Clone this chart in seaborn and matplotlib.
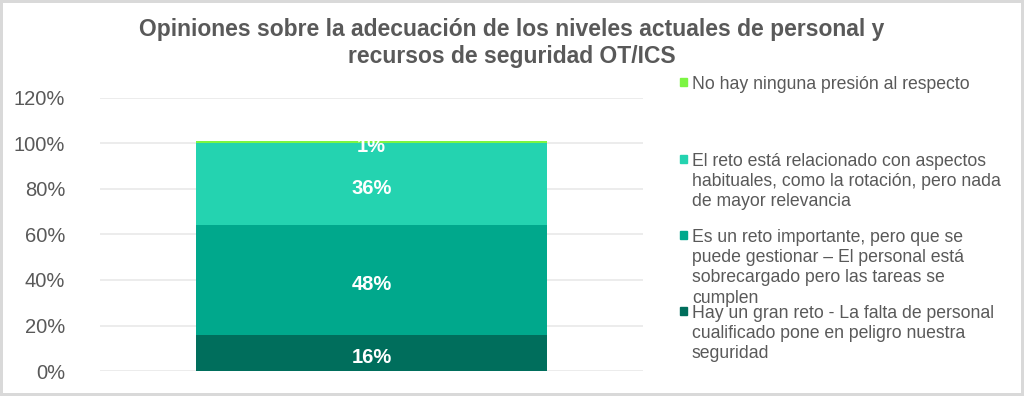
import numpy as np
import matplotlib
matplotlib.use("Agg")
import matplotlib.pyplot as plt
import seaborn as sns
from matplotlib.patches import Rectangle
from matplotlib.ticker import PercentFormatter

# datos (de abajo hacia arriba)
categoria = ["Total"]
respuestas = [
    "Hay un gran reto - La falta de personal\ncualificado pone en peligro nuestra\nseguridad",
    "Es un reto importante, pero que se\npuede gestionar – El personal está\nsobrecargado pero las tareas se\ncumplen",
    "El reto está relacionado con aspectos\nhabituales, como la rotación, pero nada\nde mayor relevancia",
    "No hay ninguna presión al respecto",
]
porcentajes = [16, 48, 36, 1]
colores = ["#006E5C", "#00A88C", "#24D3B0", "#7CF542"]

titulo = "Opiniones sobre la adecuación de los niveles actuales de personal y\nrecursos de seguridad OT/ICS"

sns.set_theme(style="white")
plt.rcParams["font.family"] = ["Liberation Sans", "DejaVu Sans"]

fig = plt.figure(figsize=(10.24, 3.96), dpi=100)
fig.patch.set_edgecolor("#D9D9D9")
fig.patch.set_linewidth(3)
ax = fig.add_axes([100 / 1024, 0.063, 543 / 1024, 0.69])

vals = np.array(porcentajes) / 100
acum = np.cumsum(vals)

# barras apiladas: se dibujan de la más alta a la más baja
for i in range(len(vals) - 1, -1, -1):
    sns.barplot(x=categoria, y=[acum[i]], color=colores[i], width=0.645,
                saturation=1, ax=ax, linewidth=0)

# etiquetas de datos
for i, v in enumerate(vals):
    ax.annotate(f"{porcentajes[i]}%", (0, acum[i] - v / 2), xytext=(0, -3),
                textcoords="offset points", ha="center", va="center",
                color="white", fontsize=14.5, fontweight="bold")

ax.set_ylim(0, 1.2)
ax.set_xlim(-0.5, 0.5)
ax.set_yticks(np.arange(0, 1.21, 0.2))
ax.yaxis.set_major_formatter(PercentFormatter(1, decimals=0))
ax.tick_params(axis="y", labelsize=14.5, labelcolor="#595959", pad=25, length=0)
ax.set_xticks([])
ax.set_xlabel("")
ax.set_ylabel("")
ax.grid(axis="y", color="#EBEBEB", linewidth=1.3)
ax.set_axisbelow(True)
for s in ax.spines.values():
    s.set_visible(False)

fig.text(0.5, 1 - 43 / 396, titulo, ha="center", va="center", fontsize=16.5,
         fontweight="bold", color="#595959", linespacing=1.2)

# leyenda manual (de arriba hacia abajo)
leyenda_y = [82, 159, 235, 311]
for lab, col, yp in zip(respuestas[::-1], colores[::-1], leyenda_y):
    yf = 1 - yp / 396
    fig.patches.append(Rectangle((680 / 1024, yf - 4 / 396), 7 / 1024, 8 / 396,
                                 transform=fig.transFigure, color=col))
    fig.text(692 / 1024, yf + 6 / 396, lab, ha="left", va="top", fontsize=12.7,
             color="#595959", linespacing=1.25)

fig.savefig("out.png", dpi=100)
